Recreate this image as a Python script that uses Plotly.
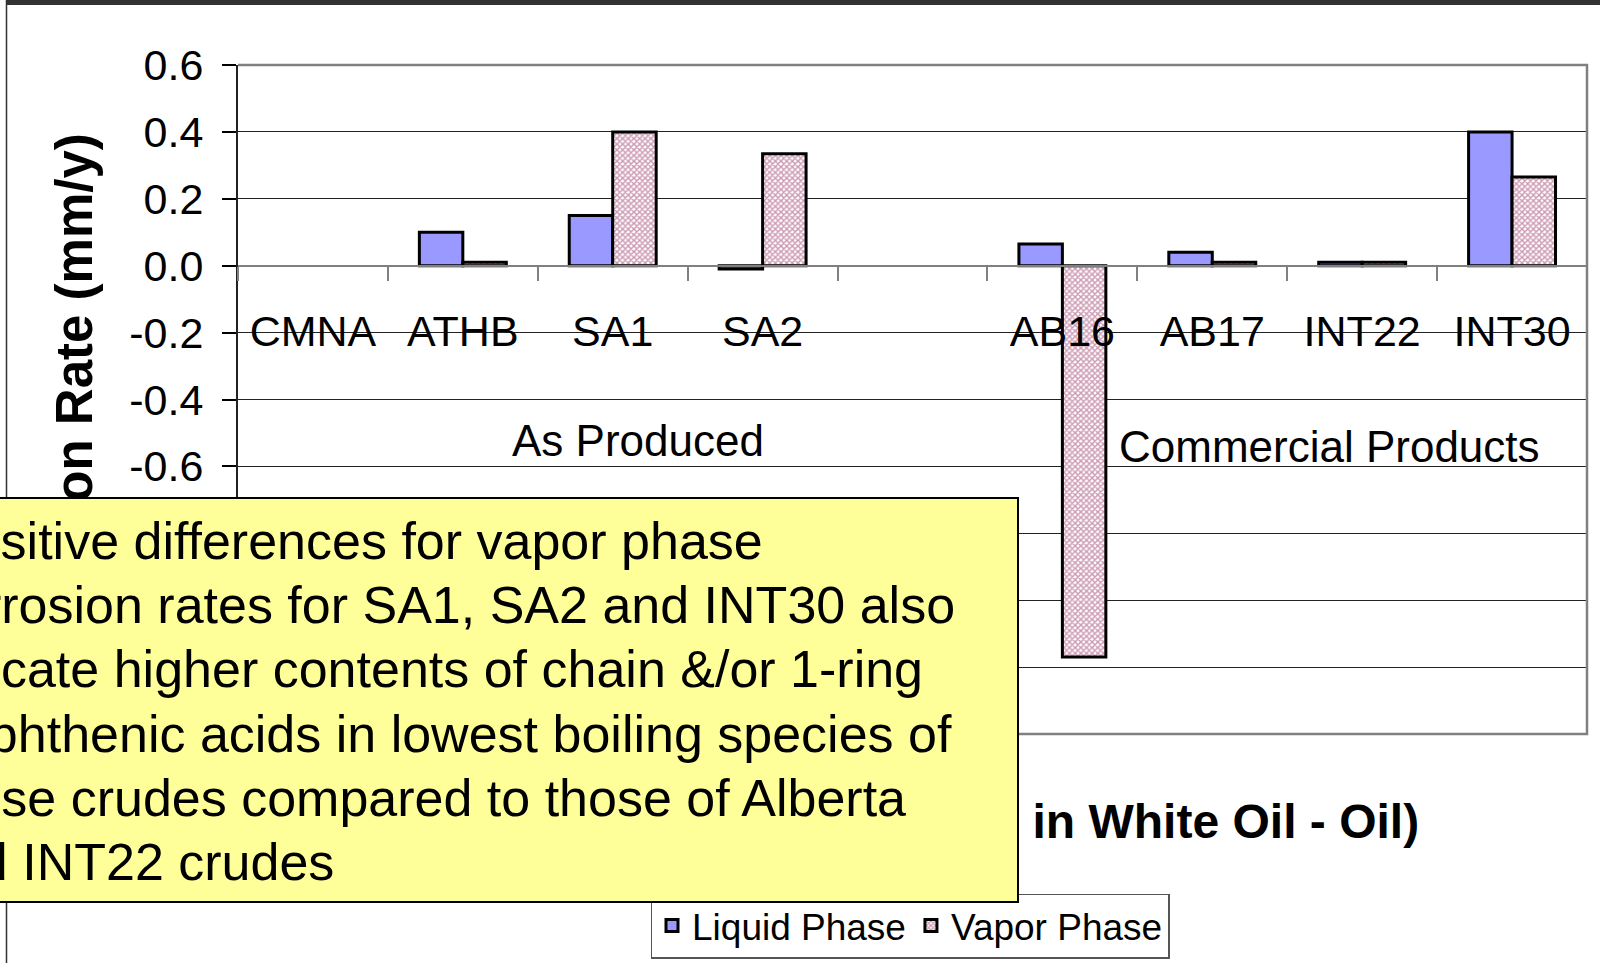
import plotly.graph_objects as go

# ---------------- data ----------------
categories = ["CMNA", "ATHB", "SA1", "SA2", " ", "AB16", "AB17", "INT22", "INT30"]
liquid_phase = [None, 0.10, 0.15, -0.01, None, 0.065, 0.04, 0.01, 0.40]
vapor_phase = [None, 0.01, 0.40, 0.335, None, -1.17, 0.01, 0.01, 0.265]
y_tick_values = [0.6, 0.4, 0.2, 0.0, -0.2, -0.4, -0.6, -0.8, -1.0, -1.2, -1.4]
y_tick_labels = ["0.6", "0.4", "0.2", "0.0", "-0.2", "-0.4", "-0.6", "", "", "", ""]
group_labels = ["As Produced", "Commercial Products"]
y_title = "Corrosion Rate (mm/y)"
x_title = "Corrosion Rate Difference (Rate in White Oil - Oil)"
callout_lines = [
    "Positive differences for vapor phase",
    "corrosion rates for SA1, SA2 and INT30 also",
    "indicate higher contents of chain &/or 1-ring",
    "naphthenic acids in lowest boiling species of",
    "these crudes compared to those of Alberta",
    "and INT22 crudes",
]

# ---------------- layout geometry (pixels) ----------------
W, H = 1600, 963
L, R, T, B = 238, 1587, 65, 734
FONT = "Liberation Sans, Arial, sans-serif"


def xp(px):
    return (px - L) / (R - L)


def yp(py):
    return (B - py) / (B - T)


fig = go.Figure()
fig.add_trace(go.Bar(
    name="Liquid Phase", x=categories, y=liquid_phase,
    marker=dict(color="#9999FF", line=dict(color="black", width=3)),
))
fig.add_trace(go.Bar(
    name="Vapor Phase", x=categories, y=vapor_phase,
    marker=dict(color="white", line=dict(color="black", width=3),
                pattern=dict(shape="x", fgcolor="#993366", bgcolor="white",
                             size=4, solidity=0.6)),
))

annotations = []
# axis titles (drawn first so the callout box covers them)
annotations.append(dict(text=y_title, textangle=-90, xref="paper", yref="paper",
                        x=xp(74), y=yp(131), xanchor="center", yanchor="top",
                        showarrow=False, font=dict(family=FONT, size=51, color="black", weight="bold")))
annotations.append(dict(text=x_title, xref="paper", yref="paper",
                        x=xp(1421), y=yp(821), xanchor="right", yanchor="middle",
                        showarrow=False, font=dict(family=FONT, size=48, color="black", weight="bold")))
# group labels
annotations.append(dict(text=group_labels[0], xref="paper", yref="paper",
                        x=xp(638), y=yp(441), xanchor="center", yanchor="middle",
                        showarrow=False, font=dict(family=FONT, size=44, color="black")))
annotations.append(dict(text=group_labels[1], xref="paper", yref="paper",
                        x=xp(1329), y=yp(447), xanchor="center", yanchor="middle",
                        showarrow=False, font=dict(family=FONT, size=44, color="black")))
# callout box
box_left, box_right, box_top, box_bottom = -20, 1017, 497, 901
annotations.append(dict(text=" ", xref="paper", yref="paper",
                        x=xp(box_left), y=yp(box_top), xanchor="left", yanchor="top",
                        width=box_right - box_left - 2, height=box_bottom - box_top - 2,
                        bgcolor="#FFFF99", bordercolor="black", borderwidth=2, borderpad=0,
                        showarrow=False))
line_x0 = [-64, -72, -81, -70, -72, -80]
for i, line in enumerate(callout_lines):
    annotations.append(dict(text=line, xref="paper", yref="paper",
                            x=xp(line_x0[i]), y=yp(541 + i * 64.2), xanchor="left", yanchor="middle",
                            showarrow=False, borderpad=0,
                            font=dict(family=FONT, size=52, color="black")))

shapes = [
    # plot area border (top, right, bottom)
    dict(type="path", xref="paper", yref="paper", path="M 0,1 L 1,1 L 1,0 L 0,0",
         line=dict(color="#808080", width=2.5), layer="above"),
    # outer slide frame
    dict(type="line", xref="paper", yref="paper", x0=xp(6), x1=xp(1600), y0=yp(2.5), y1=yp(2.5),
         line=dict(color="#333333", width=5)),
    dict(type="line", xref="paper", yref="paper", x0=xp(6.5), x1=xp(6.5), y0=yp(0), y1=yp(963),
         line=dict(color="#333333", width=1.5)),
]

fig.update_layout(
    width=W, height=H,
    margin=dict(l=L, r=W - R, t=T, b=H - B, pad=0, autoexpand=False),
    paper_bgcolor="white", plot_bgcolor="white",
    barmode="group", bargap=0.42, bargroupgap=0,
    font=dict(family=FONT, color="black"),
    showlegend=True,
    legend=dict(orientation="h", xref="paper", yref="paper",
                x=xp(910), y=yp(926), xanchor="center", yanchor="middle",
                bgcolor="white", bordercolor="#555555", borderwidth=1.5,
                font=dict(family=FONT, size=37, color="black"),
                traceorder="normal"),
    xaxis=dict(type="category", categoryorder="array", categoryarray=categories,
               range=[-0.5, len(categories) - 0.5],
               anchor="free", position=0.7,
               showline=True, linecolor="#808080", linewidth=2,
               ticks="outside", ticklen=14, tickwidth=1.5, tickcolor="#808080",
               tickson="boundaries", showgrid=False, zeroline=False,
               tickfont=dict(family=FONT, size=43, color="black"),
               ticklabelstandoff=28),
    yaxis=dict(range=[-1.4, 0.6], tickvals=y_tick_values, ticktext=y_tick_labels,
               showline=True, linecolor="#222222", linewidth=2,
               ticks="outside", ticklen=14, tickwidth=1.5, tickcolor="black",
               showgrid=True, gridcolor="#222222", gridwidth=1, zeroline=False,
               tickfont=dict(family=FONT, size=43, color="black"),
               ticklabelstandoff=10),
    annotations=annotations,
    shapes=shapes,
)

fig.write_html("out.html", config={"displayModeBar": False},
               post_script="document.body.style.margin='0px';")
